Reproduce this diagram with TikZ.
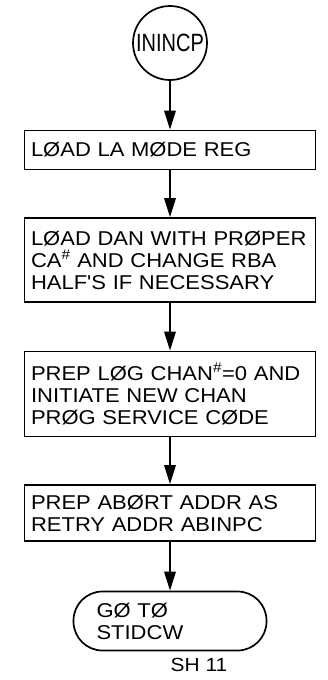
\documentclass[tikz,border=0pt]{standalone}
\usepackage{fontspec}
\newfontfamily\lettering[FakeStretch=1.1]{Liberation Sans}
\newfontfamily\narrowlettering[FakeStretch=0.8]{Liberation Sans}
\usetikzlibrary{arrows.meta}
\begin{document}
\begin{tikzpicture}[x=1pt,y=-1pt,
  every node/.style={font=\lettering\fontsize{20}{22}\selectfont},
  proc/.style={draw,line width=1.7pt,text width=278pt,inner xsep=6.5pt,inner ysep=0pt,align=left},
  term/.style={draw,line width=1.7pt,rounded corners=29pt,text width=147pt,inner xsep=23pt,inner ysep=0pt,align=left,minimum height=59pt},
  flow/.style={-{Triangle[length=19pt,width=11.5pt]},line width=1.7pt}]
  \useasboundingbox (0,0) rectangle (328,680);
  \node[draw,circle,line width=1.7pt,minimum size=74pt,inner sep=0pt,font=\narrowlettering\fontsize{25}{25}\selectfont] (start) at (170,43) {ININCP};
  \node[proc,minimum height=39pt] (load) at (170,150) {LØAD LA MØDE REG};
  \node[proc,minimum height=84pt] (dan) at (170,260) {LØAD DAN WITH PRØPER\\CA\textsuperscript{\#} AND CHANGE RBA\\HALF'S IF NECESSARY};
  \node[proc,minimum height=85pt] (prep) at (170,394) {PREP LØG CHAN\textsuperscript{\#}=0 AND\\INITIATE NEW CHAN\\PRØG SERVICE CØDE};
  \node[proc,minimum height=56pt] (abort) at (170,513) {PREP ABØRT ADDR AS\\RETRY ADDR ABINPC};
  \node[term] (goto) at (170,621) {GØ TØ\\STIDCW};
  \node[font=\lettering\fontsize{19}{19}\selectfont] (sheet) at (199,665) {SH 11};
  \draw[flow] (start) -- (load);
  \draw[flow] (load) -- (dan);
  \draw[flow] (dan) -- (prep);
  \draw[flow] (prep) -- (abort);
  \draw[flow] (abort) -- (goto);
\end{tikzpicture}
\end{document}
